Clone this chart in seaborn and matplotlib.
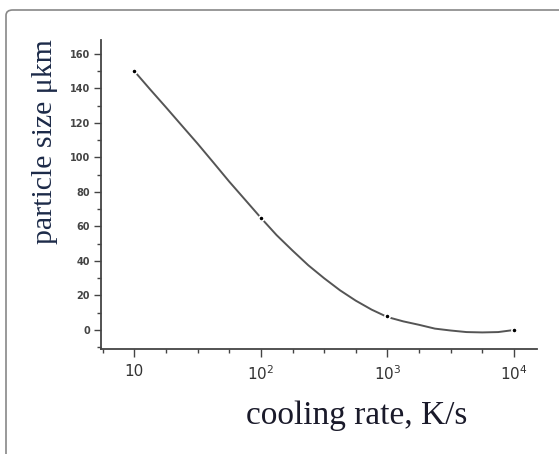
import numpy as np
import pandas as pd
import matplotlib
matplotlib.use("Agg")
import matplotlib.pyplot as plt
from matplotlib.patches import FancyBboxPatch
from matplotlib.ticker import FixedLocator, FixedFormatter
import seaborn as sns

# measured points
rate = [10, 100, 1000, 10000]
size = [150, 65, 8, 0]

# smooth curve (eighth-decade steps)
curve_rate = [10, 13.3, 17.8, 23.7, 31.6, 42.2, 56.2, 75.0, 100,
              133, 178, 237, 316, 422, 562, 750, 1000,
              1334, 1778, 2371, 3162, 4217, 5623, 7499, 10000]
curve_size = [150, 139.5, 129, 118.5, 108, 97, 86, 75.5, 65,
              55, 46, 37.5, 30, 23, 17, 11.8, 7.5,
              5, 3, 0.8, -0.3, -1.2, -1.4, -1.2, 0]

x_ticks = [10, 100, 1000, 10000]
x_labels = ['10', r'10$^{2}$', r'10$^{3}$', r'10$^{4}$']
y_ticks = [0, 20, 40, 60, 80, 100, 120, 140, 160]

sns.set_style("ticks")

fig = plt.figure(figsize=(5.59, 4.54), dpi=100)
ax = fig.add_axes([0.1807, 0.2313, 0.780, 0.6806])

curve = pd.DataFrame({'rate': curve_rate, 'size': curve_size})
pts = pd.DataFrame({'rate': rate, 'size': size})

sns.lineplot(data=curve, x='rate', y='size', sort=False, color='#555555',
             linewidth=1.4, ax=ax)
sns.scatterplot(data=pts, x='rate', y='size', color='black', s=14,
                edgecolor='white', linewidth=1.2, zorder=3, ax=ax)

ax.set_xscale('log')
ax.set_xlim(5.46, 15200)
ax.set_ylim(-11, 168)

ax.xaxis.set_major_locator(FixedLocator(x_ticks))
ax.xaxis.set_major_formatter(FixedFormatter(x_labels))
minor_x = [10 ** (d + q) for d in range(0, 5) for q in (0.25, 0.5, 0.75)]
ax.xaxis.set_minor_locator(FixedLocator(minor_x))
ax.xaxis.set_minor_formatter(FixedFormatter([''] * len(minor_x)))

ax.set_yticks(y_ticks)
ax.set_yticks(list(range(-10, 170, 10)), minor=True)

ax.tick_params(axis='x', which='major', length=6, width=1, color='#444444',
               labelsize=11, labelcolor='#333333', pad=5)
ax.tick_params(axis='x', which='minor', length=3, width=1, color='#444444')
ax.tick_params(axis='y', which='major', length=5, width=1, color='#444444',
               labelsize=7, labelcolor='#444444', pad=3)
ax.tick_params(axis='y', which='minor', length=3, width=1, color='#444444')
for lab in ax.get_yticklabels():
    lab.set_fontweight('bold')

sns.despine(ax=ax)
ax.spines['left'].set_color('#444444')
ax.spines['bottom'].set_color('#444444')
ax.spines['left'].set_linewidth(1.3)
ax.spines['bottom'].set_linewidth(1.3)

ax.set_xlabel('')
ax.set_ylabel('')

fig.text(357 / 559, 1 - 416 / 454, 'cooling rate, K/s', ha='center', va='center',
         fontsize=24, family='Liberation Serif', color='#1a1a2a')
fig.text(45 / 559, 1 - 142 / 454, 'particle size μkm', ha='center', va='center',
         rotation=90, fontsize=21.5, family='Liberation Serif', color='#1c2a48')

frame = FancyBboxPatch((6 / 559, -0.05), 1.05, 1 - 10 / 454 + 0.05,
                       boxstyle='round,pad=0,rounding_size=0.012',
                       transform=fig.transFigure, fill=False,
                       edgecolor='#888888', linewidth=1.2, clip_on=False)
fig.patches.append(frame)

fig.savefig('out.png', dpi=100)
